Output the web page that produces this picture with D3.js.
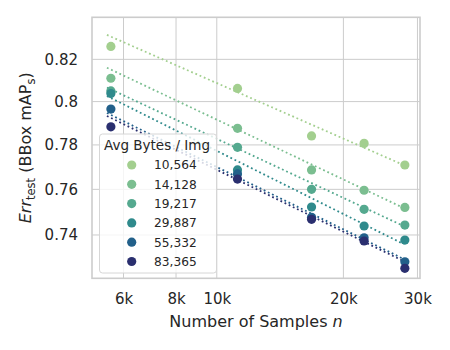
<!DOCTYPE html>
<html>
<head>
<meta charset="utf-8">
<script src="https://cdn.jsdelivr.net/npm/d3@7"></script>
<style>
	body { margin: 0; background: #fff; }
	text { font-family: "DejaVu Sans", sans-serif; fill: #262626; }
</style>
</head>
<body>
<div id="chart"></div>
<script>
// number of samples for each run
var sampleN = [5600, 11200, 16800, 22400, 28000];
// legend entries (avg bytes per image)
var bytesLabels = ['10,564', '14,128', '19,217', '29,887', '55,332', '83,365'];
var colors = ['#a3cf8f', '#7bbe90', '#55a98f', '#2f8a8c', '#22608a', '#2a2f6f'];

// measured test error per series, one value per sampleN
var err10564 = [0.8262, 0.8062, 0.7841, 0.7807, 0.7709];
var err14128 = [0.8110, 0.7876, 0.7687, 0.7596, 0.7520];
var err19217 = [0.8050, 0.7789, 0.7600, 0.7512, 0.7443];
var err29887 = [0.8038, 0.7687, 0.7522, 0.7439, 0.7378];
var err55332 = [0.7965, 0.7669, 0.7477, 0.7388, 0.7285];
var err83365 = [0.7883, 0.7646, 0.7468, 0.7374, 0.7257];

// dotted fit lines (power law, straight on log-log), endpoints
var fitN = [5480, 27800];
var fit10564 = [0.8318, 0.7709];
var fit14128 = [0.8160, 0.7518];
var fit19217 = [0.8066, 0.7439];
var fit29887 = [0.8026, 0.7361];
var fit55332 = [0.7947, 0.7297];
var fit83365 = [0.7933, 0.7288];

var xTicks = [6000, 8000, 10000, 20000, 30000];
var xTickLabels = ['6k', '8k', '10k', '20k', '30k'];
var yTicks = [0.74, 0.76, 0.78, 0.80, 0.82];
var yTickLabels = ['0.74', '0.76', '0.78', '0.8', '0.82'];

var errs = [err10564, err14128, err19217, err29887, err55332, err83365];
var fits = [fit10564, fit14128, fit19217, fit29887, fit55332, fit83365];

var width = 450, height = 350;
var plotLeft = 92, plotRight = 420, plotTop = 17.3, plotBottom = 278.3;

var svg = d3.select('#chart').append('svg')
	.attr('width', width).attr('height', height);

var x = d3.scaleLog().domain([5050, 30420]).range([plotLeft, plotRight]);
var y = d3.scaleLog().domain([0.7215, 0.8404]).range([plotBottom, plotTop]);

// grid
var grid = svg.append('g');
grid.selectAll('.xg').data(xTicks).enter().append('line')
	.attr('x1', function(d) { return x(d); }).attr('x2', function(d) { return x(d); })
	.attr('y1', plotTop).attr('y2', plotBottom)
	.attr('stroke', '#cccccc').attr('stroke-width', 1);
grid.selectAll('.yg').data(yTicks).enter().append('line')
	.attr('y1', function(d) { return y(d); }).attr('y2', function(d) { return y(d); })
	.attr('x1', plotLeft).attr('x2', plotRight)
	.attr('stroke', '#cccccc').attr('stroke-width', 1);

// axes, labels only (ticks hidden like seaborn whitegrid)
var xAxis = d3.axisBottom(x).tickValues(xTicks)
	.tickFormat(function(d, i) { return xTickLabels[i]; }).tickSize(0).tickPadding(0);
svg.append('g').attr('transform', 'translate(0,' + plotBottom + ')').call(xAxis)
	.call(function(g) { g.select('.domain').remove(); })
	.selectAll('text').attr('y', 15).attr('dy', '0.71em')
	.style('font-size', '15px').style('font-family', '"DejaVu Sans", sans-serif').attr('fill', '#262626');

var yAxis = d3.axisLeft(y).tickValues(yTicks)
	.tickFormat(function(d, i) { return yTickLabels[i]; }).tickSize(0).tickPadding(14);
svg.append('g').attr('transform', 'translate(' + plotLeft + ',0)').call(yAxis)
	.call(function(g) { g.select('.domain').remove(); })
	.selectAll('text')
	.style('font-size', '15px').style('font-family', '"DejaVu Sans", sans-serif').attr('fill', '#262626');

// frame
svg.append('rect')
	.attr('x', plotLeft).attr('y', plotTop)
	.attr('width', plotRight - plotLeft).attr('height', plotBottom - plotTop)
	.attr('fill', 'none').attr('stroke', '#cccccc').attr('stroke-width', 1.6);

// fit lines
var line = d3.line()
	.x(function(d) { return x(d[0]); })
	.y(function(d) { return y(d[1]); });

svg.append('g').selectAll('path')
	.data(fits)
	.enter().append('path')
	.attr('d', function(d) { return line(d.map(function(v, i) { return [fitN[i], v]; })); })
	.attr('fill', 'none')
	.attr('stroke', function(d, i) { return colors[i]; })
	.attr('stroke-width', 1.8)
	.attr('stroke-dasharray', '1.8,2.8');

// points
svg.append('g').selectAll('g')
	.data(errs)
	.enter().append('g')
	.attr('fill', function(d, i) { return colors[i]; })
	.selectAll('circle')
	.data(function(d) { return d; })
	.enter().append('circle')
	.attr('cx', function(d, i) { return x(sampleN[i]); })
	.attr('cy', function(d) { return y(d); })
	.attr('r', 4.6);

// axis titles
svg.append('text')
	.attr('x', (plotLeft + plotRight) / 2).attr('y', 327)
	.attr('text-anchor', 'middle')
	.style('font-size', '16px')
	.html('Number of Samples <tspan font-style="italic">n</tspan>');

var yl = svg.append('text')
	.attr('transform', 'translate(31,' + (plotTop + plotBottom) / 2 + ') rotate(-90)')
	.attr('text-anchor', 'middle')
	.style('font-size', '16px');
yl.append('tspan').attr('font-style', 'italic').text('Err');
yl.append('tspan').attr('font-size', '11.5px').attr('dy', 4).text('test');
yl.append('tspan').attr('dy', -4).text(' (BBox mAP');
yl.append('tspan').attr('font-size', '11.5px').attr('dy', 4).text('s');
yl.append('tspan').attr('dy', -4).text(')');

// legend
var lg = svg.append('g');
lg.append('rect')
	.attr('x', 99.5).attr('y', 134).attr('width', 117).attr('height', 139)
	.attr('rx', 3)
	.attr('fill', 'white').attr('fill-opacity', 0.8)
	.attr('stroke', '#d6d6d6').attr('stroke-width', 1);
lg.append('text')
	.attr('x', 104).attr('y', 150)
	.style('font-size', '13.5px')
	.text('Avg Bytes / Img');

var entry = lg.selectAll('.entry')
	.data(bytesLabels)
	.enter().append('g')
	.attr('class', 'entry')
	.attr('transform', function(d, i) { return 'translate(0,' + (165 + i * 19.3) + ')'; });
entry.append('circle')
	.attr('cx', 131.7).attr('cy', 0).attr('r', 4.6)
	.attr('fill', function(d, i) { return colors[i]; });
entry.append('text')
	.attr('x', 154).attr('y', 4.4)
	.style('font-size', '12.2px')
	.text(function(d) { return d; });
</script>
</body>
</html>
